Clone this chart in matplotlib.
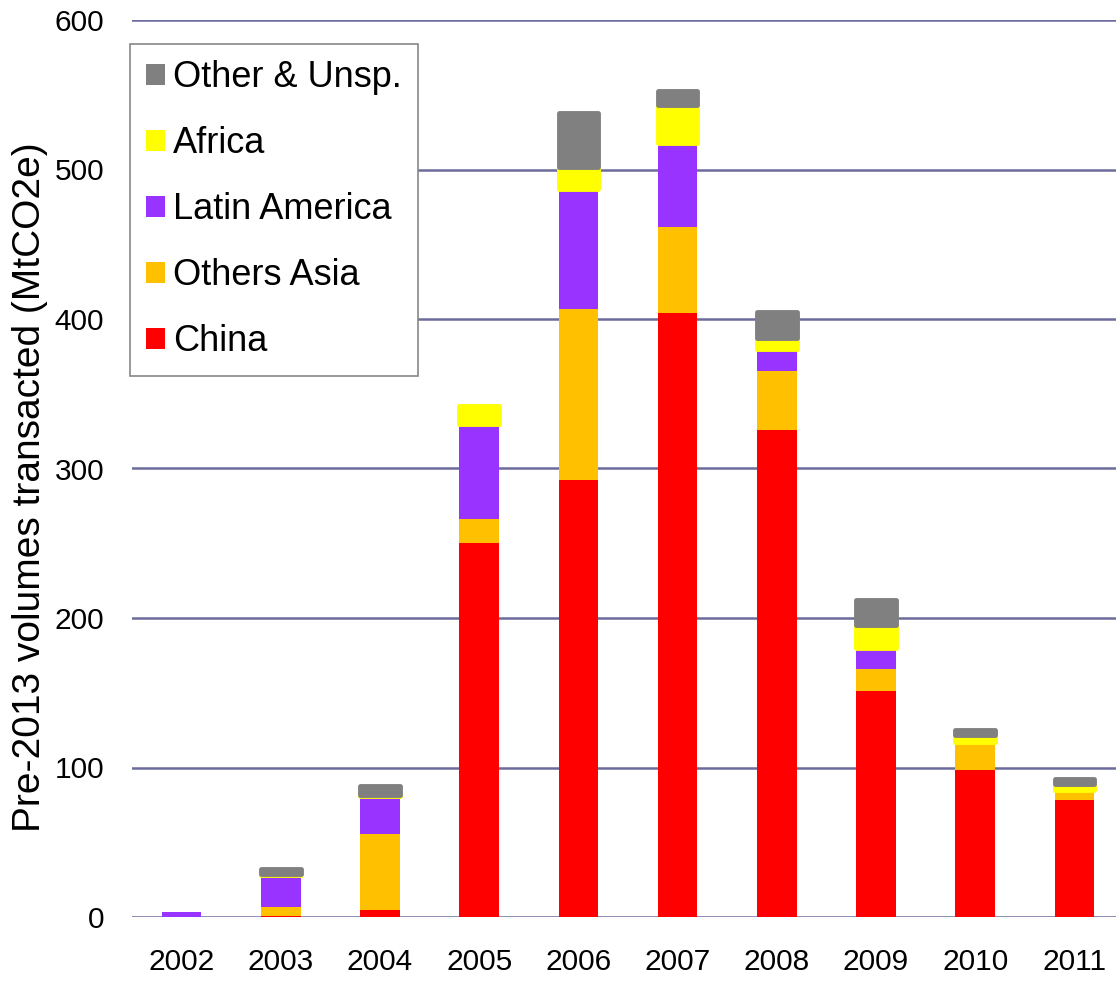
import numpy as np
import matplotlib.pyplot as plt

years = ['2002', '2003', '2004', '2005', '2006', '2007', '2008', '2009', '2010', '2011']
china = [0, 0.5, 4.7, 250, 292, 404, 326, 151, 98, 78]
others_asia = [0, 6.5, 51, 16, 115, 57.5, 39, 15, 19, 7]
latin_america = [3.5, 21, 25, 63.5, 80, 56.5, 15, 14, 0, 0]
africa = [0, 1, 1, 12, 15, 25, 7, 15, 5, 4]
other_unsp = [0, 3, 6, 0, 36, 9.5, 18, 17, 3, 3]

plt.rcParams['font.family'] = ['Liberation Sans', 'DejaVu Sans']

fig = plt.figure(figsize=(11.16, 9.82), dpi=100)
ax = fig.add_axes([132 / 1116, 65 / 982, 984 / 1116, 897 / 982])

x = np.arange(len(years))
w = 0.4
bottom = np.zeros(len(years))
series = [
    ('China', china, '#FF0000', 0.0),
    ('Others Asia', others_asia, '#FFC000', 0.0),
    ('Latin America', latin_america, '#9933FF', 0.0),
    ('Africa', africa, '#FFFF00', 3.5),
    ('Other & Unsp.', other_unsp, '#808080', 3.5),
]
handles = []
for name, vals, col, lw in series:
    vals = np.array(vals, dtype=float)
    # outlines only where the segment exists, so empty ones stay invisible
    lws = np.where(vals > 0, lw, 0.0)
    bars = ax.bar(x, vals, w, bottom=bottom, color=col, edgecolor=col,
                  linewidth=lws, label=name, zorder=3)
    for b in bars:
        b.set_joinstyle('round')
    handles.append(bars)
    bottom += vals

ax.set_xlim(-0.5, -0.5 + 984 / 99.2)
ax.set_ylim(0, 600)
ax.set_yticks(range(0, 601, 100))
ax.set_xticks(x)
ax.set_xticklabels(years)
ax.yaxis.grid(True, color='#6c6c9c', linewidth=1.8)
ax.set_axisbelow(True)
for s in ax.spines.values():
    s.set_visible(False)
ax.tick_params(axis='both', length=0, labelsize=21.5)
ax.tick_params(axis='x', pad=22)
ax.tick_params(axis='y', pad=20)
ax.set_ylabel('Pre-2013 volumes transacted (MtCO2e)', fontsize=28)
ax.yaxis.set_label_coords(-0.085, 0.479)

leg = ax.legend(handles[::-1], [s[0] for s in series][::-1],
                loc='upper left', bbox_to_anchor=(130 / 1116, 1 - 44 / 982),
                bbox_transform=fig.transFigure, fontsize=26, frameon=True,
                fancybox=False, framealpha=1, edgecolor='#888888',
                handlelength=0.52, handleheight=0.52, handletextpad=0.22,
                labelspacing=0.86, borderpad=0.45, borderaxespad=0)
leg.get_frame().set_linewidth(1.2)
leg.set_zorder(5)

fig.savefig('out.png', dpi=100)
